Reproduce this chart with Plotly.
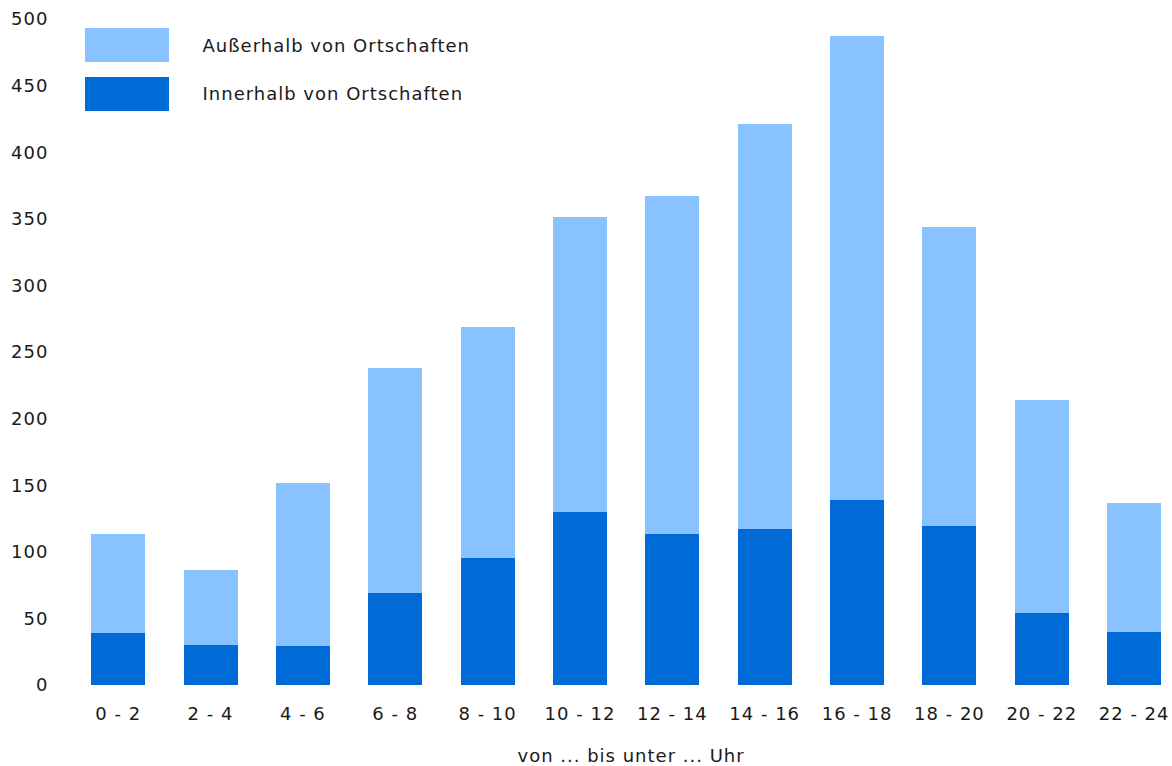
import plotly.graph_objects as go

categories = ["0 - 2", "2 - 4", "4 - 6", "6 - 8", "8 - 10", "10 - 12",
              "12 - 14", "14 - 16", "16 - 18", "18 - 20", "20 - 22", "22 - 24"]
innerhalb = [39, 30, 29, 69, 95, 130, 113, 117, 139, 119, 54, 40]
ausserhalb = [74, 56, 123, 169, 174, 221, 254, 304, 348, 225, 160, 97]
series_names = ["Außerhalb von Ortschaften", "Innerhalb von Ortschaften"]
y_ticks = [0, 50, 100, 150, 200, 250, 300, 350, 400, 450, 500]
x_title = "von ... bis unter ... Uhr"

c_light = "#88C2FF"
c_dark = "#006BD7"
FONT = "DejaVu Sans"
FS = 18
TXT = "#1a1a1a"

fig = go.Figure()
fig.add_trace(go.Bar(x=categories, y=innerhalb, name=series_names[1],
                     marker=dict(color=c_dark, line=dict(width=0)), width=0.585))
fig.add_trace(go.Bar(x=categories, y=ausserhalb, name=series_names[0],
                     marker=dict(color=c_light, line=dict(width=0)), width=0.585))

# legend drawn manually (large swatches)
for i, (name, col) in enumerate([(series_names[0], c_light), (series_names[1], c_dark)]):
    y0 = 28 + i * 49
    fig.add_shape(type="rect", xref="paper", yref="paper",
                  x0=(85 - 72) / 1100, x1=(169 - 72) / 1100,
                  y0=(685 - (y0 + 34)) / 666, y1=(685 - y0) / 666,
                  fillcolor=col, line=dict(width=0), layer="above")
    fig.add_annotation(text=name, xref="paper", yref="paper",
                       x=(213 - 72) / 1100, y=(685 - (y0 + 17)) / 666,
                       xanchor="left", yanchor="middle", showarrow=False,
                       font=dict(family=FONT, size=FS, color=TXT))

# x axis title
fig.add_annotation(text=x_title, xref="paper", yref="paper",
                   x=(631 - 72) / 1100, y=(685 - 755) / 666,
                   xanchor="center", yanchor="middle", showarrow=False,
                   font=dict(family=FONT, size=FS, color=TXT))

fig.update_layout(
    barmode="stack",
    width=1172, height=766,
    margin=dict(l=72, r=0, t=19, b=81),
    paper_bgcolor="white", plot_bgcolor="white",
    showlegend=False,
    font=dict(family=FONT, size=FS, color=TXT),
    xaxis=dict(range=[-0.5, 11.41], showgrid=False, showline=False, zeroline=False,
               ticks="outside", ticklen=12, tickcolor="white",
               tickfont=dict(size=FS)),
    yaxis=dict(range=[0, 500], tickvals=y_ticks, showgrid=False, showline=False,
               zeroline=False, ticks="outside", ticklen=19, tickcolor="white",
               tickfont=dict(size=FS)),
)

post = """
document.body.style.margin = '0';
document.body.style.overflow = 'hidden';
document.querySelectorAll('svg text').forEach(function(t){ t.style.letterSpacing = '1px'; });
"""
fig.write_html("out.html", post_script=post, config={"displayModeBar": False})
